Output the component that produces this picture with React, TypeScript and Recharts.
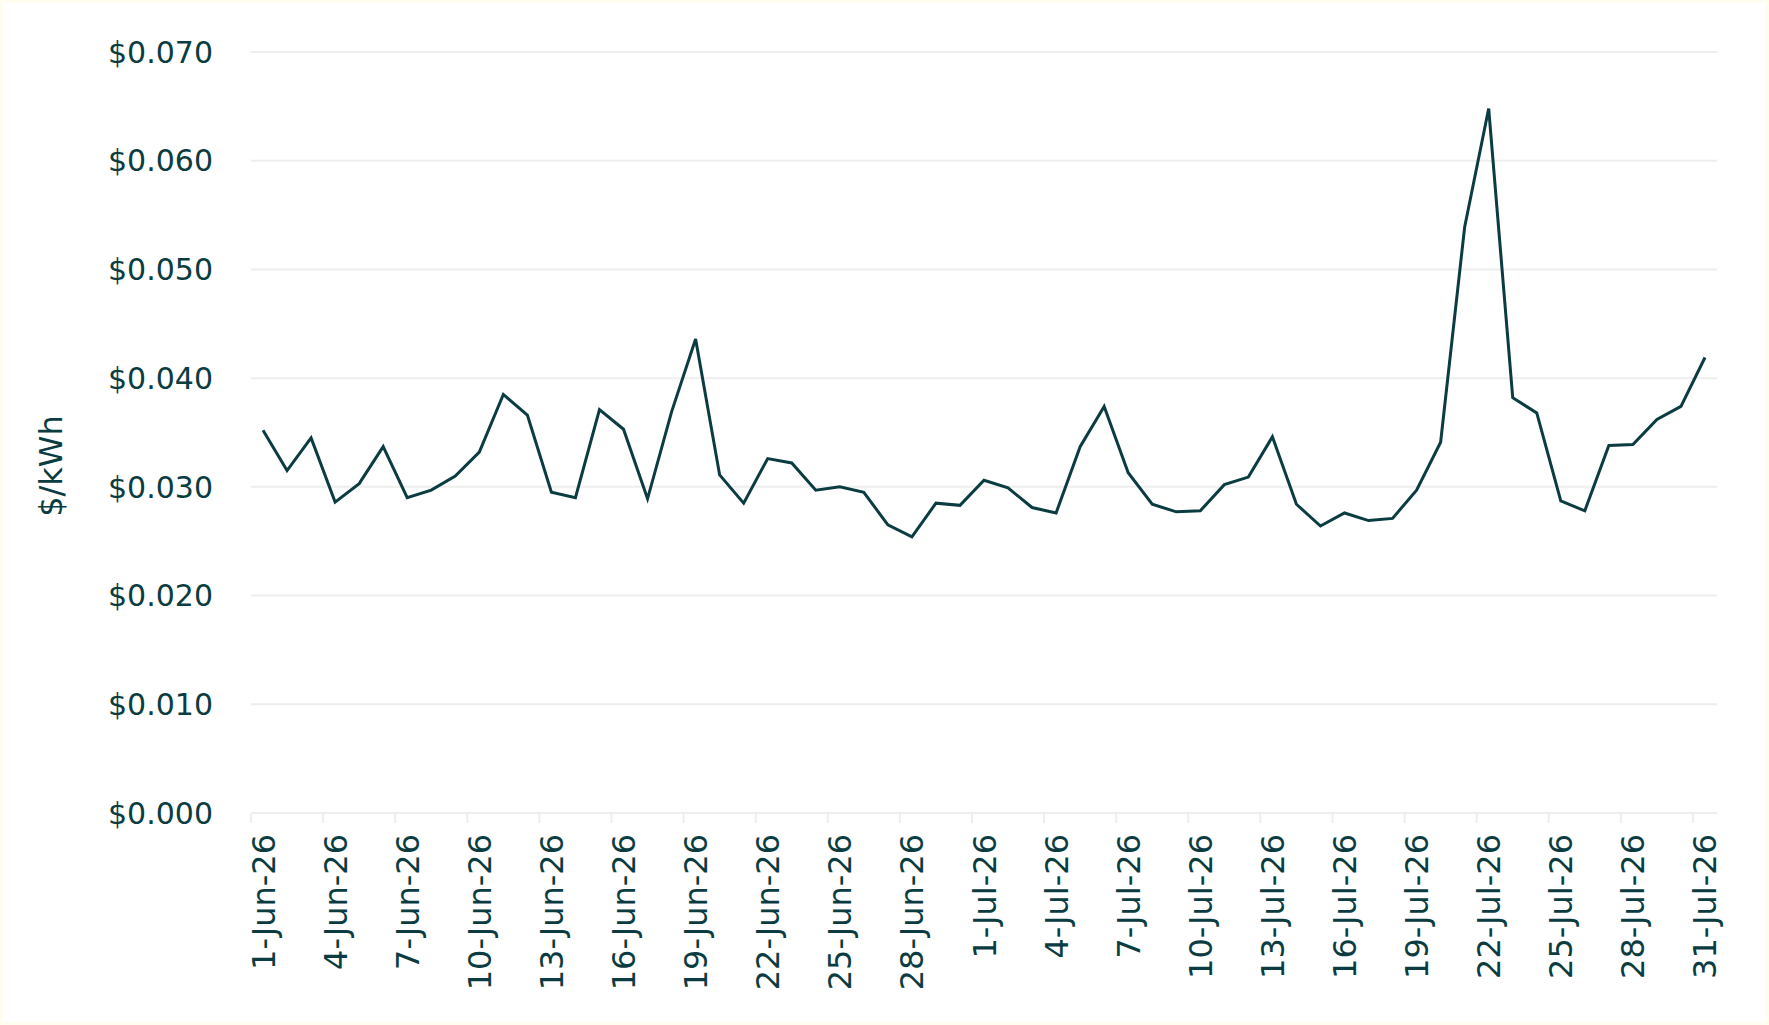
import React from 'react';
import { LineChart, Line, XAxis, YAxis, CartesianGrid } from 'recharts';

// Daily price, $/kWh
const junDates = [
  '1-Jun-26', '2-Jun-26', '3-Jun-26', '4-Jun-26', '5-Jun-26', '6-Jun-26', '7-Jun-26', '8-Jun-26', '9-Jun-26', '10-Jun-26',
  '11-Jun-26', '12-Jun-26', '13-Jun-26', '14-Jun-26', '15-Jun-26', '16-Jun-26', '17-Jun-26', '18-Jun-26', '19-Jun-26', '20-Jun-26',
  '21-Jun-26', '22-Jun-26', '23-Jun-26', '24-Jun-26', '25-Jun-26', '26-Jun-26', '27-Jun-26', '28-Jun-26', '29-Jun-26', '30-Jun-26',
];
const julDates = [
  '1-Jul-26', '2-Jul-26', '3-Jul-26', '4-Jul-26', '5-Jul-26', '6-Jul-26', '7-Jul-26', '8-Jul-26', '9-Jul-26', '10-Jul-26',
  '11-Jul-26', '12-Jul-26', '13-Jul-26', '14-Jul-26', '15-Jul-26', '16-Jul-26', '17-Jul-26', '18-Jul-26', '19-Jul-26', '20-Jul-26',
  '21-Jul-26', '22-Jul-26', '23-Jul-26', '24-Jul-26', '25-Jul-26', '26-Jul-26', '27-Jul-26', '28-Jul-26', '29-Jul-26', '30-Jul-26',
  '31-Jul-26',
];

const junPrices = [
  0.0352, 0.0315, 0.0345, 0.0286, 0.0303, 0.0337, 0.0290, 0.0297, 0.0310, 0.0332,
  0.0385, 0.0366, 0.0295, 0.0290, 0.0371, 0.0353, 0.0289, 0.0369, 0.0436, 0.0311,
  0.0285, 0.0326, 0.0322, 0.0297, 0.0300, 0.0295, 0.0265, 0.0254, 0.0285, 0.0283,
];
const julPrices = [
  0.0306, 0.0299, 0.0281, 0.0276, 0.0337, 0.0374, 0.0313, 0.0284, 0.0277, 0.0278,
  0.0302, 0.0309, 0.0346, 0.0284, 0.0264, 0.0276, 0.0269, 0.0271, 0.0297, 0.0341,
  0.0539, 0.0648, 0.0382, 0.0368, 0.0287, 0.0278, 0.0338, 0.0339, 0.0362, 0.0374,
  0.0419,
];

const yTicks = [0, 0.01, 0.02, 0.03, 0.04, 0.05, 0.06, 0.07];

const dates = [...junDates, ...julDates];
const prices = [...junPrices, ...julPrices];
const data = dates.map((date, i) => ({ date, price: prices[i] }));

const INK = '#0b3c41';
const GRID = '#eeeeee';
const FONT = '"DejaVu Sans", sans-serif';
const BAND = 1466 / 61; // width of one day on the x axis

const DateTick = (props: any) => {
  const { x, y, payload } = props;
  const lx = x - BAND / 2;
  return (
    <g>
      <line x1={lx} y1={y} x2={lx} y2={y + 10} stroke={GRID} strokeWidth={2} />
      <text
        x={x}
        y={y + 21}
        dy="0.36em"
        transform={`rotate(-90, ${x}, ${y + 21})`}
        textAnchor="end"
        fill={INK}
        fontSize={32}
        fontFamily={FONT}
      >
        {payload.value}
      </text>
    </g>
  );
};

const UnitLabel = () => (
  <text
    x={51}
    y={466}
    transform="rotate(-90, 51, 466)"
    textAnchor="middle"
    dominantBaseline="central"
    fill={INK}
    fontSize={32}
    fontFamily={FONT}
  >
    $/kWh
  </text>
);

export default function App() {
  return (
    <div style={{ position: 'absolute', left: 0, top: 0, width: 1769, height: 1025, background: '#fffdf0' }}>
      <div style={{ position: 'absolute', left: 3, top: 3, right: 3, bottom: 3, background: '#ffffff' }} />
      <div style={{ position: 'absolute', left: 0, top: 0 }}>
        <LineChart width={1769} height={1025} data={data} margin={{ top: 52, right: 52, left: 0, bottom: 12 }}>
          <CartesianGrid vertical={false} stroke={GRID} strokeWidth={2} />
          <XAxis
            dataKey="date"
            interval={2}
            height={200}
            padding={{ left: BAND / 2, right: BAND / 2 }}
            tickLine={false}
            tickSize={0}
            tickMargin={0}
            axisLine={{ stroke: GRID, strokeWidth: 2 }}
            tick={<DateTick />}
          />
          <YAxis
            width={251}
            domain={[0, 0.07]}
            ticks={yTicks}
            interval={0}
            axisLine={false}
            tickLine={false}
            tickSize={0}
            tickMargin={38}
            tickFormatter={(v: number) => `$${v.toFixed(3)}`}
            tick={{ fill: INK, fontSize: 30, fontFamily: FONT }}
            label={<UnitLabel />}
          />
          <Line
            type="linear"
            dataKey="price"
            stroke={INK}
            strokeWidth={3}
            dot={false}
            isAnimationActive={false}
          />
        </LineChart>
      </div>
    </div>
  );
}
